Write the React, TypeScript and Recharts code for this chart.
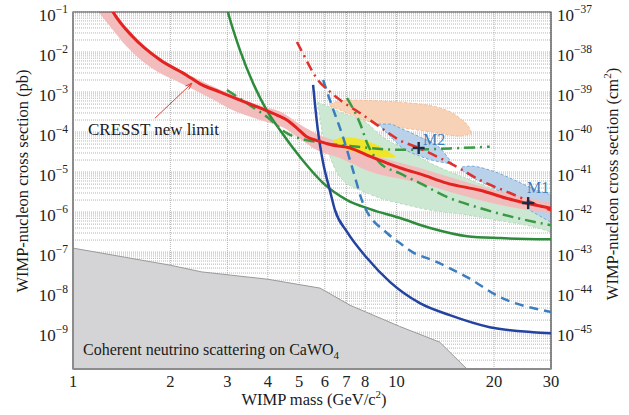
import {
  Area,
  CartesianGrid,
  ComposedChart,
  Line,
  ReferenceArea,
  ReferenceLine,
  Scatter,
  XAxis,
  YAxis,
} from 'recharts';

type Pt = [number, number];
type Band = [number, number, number];

const SERIF = '"Liberation Serif", "Times New Roman", serif';
const Y_MIN = 1.2e-10;
const Y_MAX = 0.1;

// axis ticks
const massTicks = [1, 2, 3, 4, 5, 6, 7, 8, 9, 10, 20, 30];
const sigmaDecades = [1e-9, 1e-8, 1e-7, 1e-6, 1e-5, 1e-4, 1e-3, 1e-2, 1e-1];
const minorSteps = [1, 2, 3, 4, 5, 6, 7, 8, 9];
const cm2PerPb = -36; // 1 pb = 1e-36 cm^2

// mass (GeV/c^2), cross section (pb)
const cresstLimit: Pt[] = [
  [1.3, 0.14], [1.33, 0.1], [1.53, 0.024], [1.86, 6.3e-3], [2.25, 2.6e-3],
  [2.47, 1.6e-3], [2.85, 1e-3], [3.28, 6.3e-4], [3.78, 4e-4], [4.27, 2.66e-4],
  [4.58, 2e-4], [4.92, 1.26e-4], [5.29, 7.5e-5], [5.68, 6.1e-5], [6.36, 4.7e-5],
  [7.18, 4e-5], [8.1, 2.66e-5], [9.34, 1.68e-5], [10.77, 1.12e-5], [11.8, 9e-6],
  [14.3, 5.3e-6], [18.1, 3.5e-6], [22.9, 2e-6], [30, 1.25e-6],
];

// mass, lower, upper
const cresstBand: Band[] = [
  [1.2, 0.1, 0.3], [1.33, 0.035, 0.11], [1.47, 0.0133, 0.04], [1.73, 4.2e-3, 0.011],
  [2.14, 1.7e-3, 3.6e-3], [2.65, 7.1e-4, 1.5e-3], [3.12, 3.5e-4, 8.4e-4],
  [3.78, 2e-4, 4.6e-4], [4.46, 1.3e-4, 3e-4], [5.0, 7e-5, 1.6e-4], [5.68, 3.5e-5, 9e-5],
  [6.7, 2.2e-5, 5.6e-5], [8.1, 1.1e-5, 3e-5], [11.8, 5.3e-6, 1.26e-5],
  [16, 2.6e-6, 6e-6], [22.9, 1.3e-6, 2.7e-6], [30, 9.4e-7, 1.7e-6],
];

const greenSolid: Pt[] = [
  [2.97, 0.15], [3.01, 0.1], [3.28, 0.0112], [3.6, 1.68e-3], [3.97, 3.5e-4],
  [4.36, 1.12e-4], [5.03, 2.37e-5], [5.93, 5.3e-6], [7.03, 2e-6], [8.28, 1.19e-6],
  [10.24, 7.1e-7], [12.7, 4e-7], [16.5, 2.5e-7], [20.9, 2.24e-7], [30, 2.1e-7],
];

const greenDashFlat: Pt[] = [
  [2.99, 1.12e-3], [3.52, 4.7e-4], [3.98, 2.37e-4], [4.58, 9.4e-5], [5.68, 5.6e-5],
  [7.18, 4.5e-5], [10.24, 3.6e-5], [14.6, 3.9e-5], [19.4, 4.3e-5],
];

const greenDashSteep: Pt[] = [
  [7.03, 7.1e-4], [7.7, 1.68e-4], [8.16, 4.7e-5], [8.89, 1.68e-5], [10.2, 9.4e-6],
  [11.8, 5.3e-6], [14.3, 2.4e-6], [18.1, 1.26e-6], [22.9, 7.5e-7], [30, 4.7e-7],
];

const redDashDot: Pt[] = [
  [4.92, 0.0178], [5.13, 9.4e-3], [5.4, 4.2e-3], [5.71, 2e-3], [6.14, 1.12e-3],
  [6.69, 6.3e-4], [7.7, 3e-4], [8.89, 1.33e-4], [10.2, 6.3e-5], [11.7, 4e-5],
  [15.4, 1.33e-5], [18.1, 6.3e-6], [22.4, 3e-6], [28.3, 1.33e-6], [30, 1.1e-6],
];

const blueSolid: Pt[] = [
  [5.52, 1.5e-3], [5.71, 1.12e-4], [5.93, 1.68e-5], [6.22, 3.5e-6], [6.45, 1.12e-6],
  [7.03, 3.2e-7], [8.1, 7.1e-8], [9.55, 1.78e-8], [11.8, 5.3e-9], [14.6, 2.66e-9],
  [19.4, 1.33e-9], [26.4, 1e-9], [30, 9.4e-10],
];

const blueDashed: Pt[] = [
  [5.93, 2e-3], [6.22, 6.3e-4], [6.83, 7.5e-5], [7.33, 1.12e-5], [7.87, 1.68e-6],
  [9.34, 3e-7], [10.24, 1.68e-7], [11.2, 1e-7], [12.9, 6.3e-8], [16.5, 2.37e-8],
  [20.9, 7.5e-9], [30, 3.2e-9],
];

const greenRegion: Band[] = [
  [5.71, 5.6e-4, 5.6e-4], [5.84, 1.5e-4, 5e-4], [6.09, 4.2e-5, 4.5e-4],
  [6.69, 7.5e-6, 3.16e-4], [8.1, 3e-6, 1.68e-4], [8.89, 2.24e-6, 8.4e-5],
  [10.77, 1.5e-6, 3.5e-5], [12.7, 1.12e-6, 1.68e-5], [16.0, 8.9e-7, 7.5e-6],
  [20.4, 6.3e-7, 3.5e-6], [25.8, 4.5e-7, 1.68e-6], [30, 3.2e-7, 1e-6],
];

const orangeRegion: Band[] = [
  [6.22, 4.5e-4, 5e-4], [7.03, 3e-4, 6.3e-4], [8.89, 1.5e-4, 6e-4], [11.0, 1.2e-4, 5.3e-4],
  [13.6, 9.4e-5, 4e-4], [15.7, 7.9e-5, 2.2e-4], [16.9, 8.9e-5, 1.12e-4], [17.1, 8.4e-5, 8.4e-5],
];

const m2Region: Band[] = [
  [8.76, 1.58e-4, 1.58e-4], [9.55, 7.9e-5, 1.58e-4], [10.24, 4.5e-5, 1.26e-4],
  [11.8, 2.5e-5, 7.5e-5], [13.6, 1.8e-5, 4e-5], [14.9, 1.6e-5, 1.6e-5],
];

const m1Region: Band[] = [
  [15.9, 1.12e-5, 1.33e-5], [16.9, 7.9e-6, 1.41e-5], [19.4, 4.5e-6, 1.12e-5],
  [22.4, 2.37e-6, 7.1e-6], [25.8, 1.12e-6, 4.2e-6], [30, 5.6e-7, 2.66e-6],
];

const yellowRegion: Band[] = [
  [6.4, 5.6e-5, 6.3e-5], [6.93, 3.8e-5, 7.5e-5], [7.7, 2.9e-5, 6.7e-5],
  [8.57, 2.5e-5, 5e-5], [9.3, 2.35e-5, 3.5e-5], [9.9, 2.3e-5, 2.5e-5],
];

const neutrinoFloor: Pt[] = [
  [1, 1.26e-7], [2, 4.7e-8], [2.5, 3.2e-8], [4, 2.1e-8], [5.8, 1.26e-8],
  [7.18, 4.7e-9], [10.2, 1.4e-9], [13.6, 5.6e-10], [16.5, 1.2e-10],
];

const bestFits: Pt[] = [
  [11.7, 4e-5],
  [25.5, 1.68e-6],
];

const arrowFrom: Pt = [1.79, 2.2e-4];
const arrowTo: Pt = [2.33, 1.66e-3];

const rows = (pts: Pt[]) => pts.map(([m, s]) => ({ m, s }));
const bands = (pts: Band[]) => pts.map(([m, lo, hi]) => ({ m, r: [lo, hi] }));

const sigmaTicks = [1e-10, ...sigmaDecades]
  .flatMap((d) => minorSteps.map((k) => k * d))
  .filter((v) => v >= Y_MIN && v <= Y_MAX * 1.0001);

const PowerTick = (props: any) => {
  const { x, y, payload, anchor, shift = 0 } = props;
  const e = Math.log10(payload.value);
  const n = Math.round(e);
  if (Math.abs(e - n) > 1e-6) return <g />;
  return (
    <text x={x} y={y + 9} textAnchor={anchor} style={{ fontFamily: SERIF }} fontSize={17} fill="#222">
      10
      <tspan dy={-8} fontSize={11.5}>{`\u2212${Math.abs(n + shift)}`}</tspan>
    </text>
  );
};

const MassTick = (props: any) => {
  const { x, y, payload } = props;
  return (
    <text x={x} y={y + 18} textAnchor="middle" style={{ fontFamily: SERIF }} fontSize={16.5} fill="#222">
      {payload.value}
    </text>
  );
};

const Cross = (props: any) => {
  const { cx, cy } = props;
  return (
    <g stroke="#1b2a44" strokeWidth={2.4}>
      <line x1={cx - 6} y1={cy} x2={cx + 6} y2={cy} />
      <line x1={cx} y1={cy - 6} x2={cx} y2={cy + 6} />
    </g>
  );
};

const Arrow = (props: any) => {
  const { x1, y1, x2, y2 } = props;
  const a = Math.atan2(y2 - y1, x2 - x1);
  const L = 7;
  const p1 = [x2 - L * Math.cos(a - 0.35), y2 - L * Math.sin(a - 0.35)];
  const p2 = [x2 - L * Math.cos(a + 0.35), y2 - L * Math.sin(a + 0.35)];
  return (
    <g stroke="#e0403a" strokeWidth={1} fill="none">
      <line x1={x1} y1={y1} x2={x2} y2={y2} />
      <polyline points={`${p1[0]},${p1[1]} ${x2},${y2} ${p2[0]},${p2[1]}`} />
    </g>
  );
};

const lineProps = { type: 'monotone' as const, dataKey: 's', dot: false, isAnimationActive: false };

export default function App() {
  return (
    <div style={{ position: 'absolute', left: 0, top: 0, width: 629, height: 415, background: '#fff' }}>
      <ComposedChart width={629} height={415} margin={{ top: 12, right: 0, left: 10, bottom: 0 }}>
        <CartesianGrid stroke="#b4b4b4" strokeDasharray="1 1" strokeWidth={1} />
        <XAxis
          type="number"
          dataKey="m"
          scale="log"
          domain={[1, 30]}
          ticks={massTicks}
          allowDataOverflow
          height={46}
          tickSize={0}
          tickMargin={0}
          axisLine={{ stroke: '#8c8c8c', strokeWidth: 2 }}
          tick={<MassTick />}
        />
        <YAxis
          type="number"
          scale="log"
          domain={[Y_MIN, Y_MAX]}
          ticks={sigmaTicks}
          allowDataOverflow
          width={63}
          tickSize={0}
          tickMargin={5}
          interval={0}
          axisLine={{ stroke: '#8c8c8c', strokeWidth: 2 }}
          tick={<PowerTick anchor="end" />}
        />
        <YAxis
          yAxisId="cm2"
          orientation="right"
          type="number"
          scale="log"
          domain={[Y_MIN, Y_MAX]}
          ticks={sigmaDecades}
          allowDataOverflow
          width={78}
          tickSize={0}
          tickMargin={6}
          interval={0}
          axisLine={false}
          tick={<PowerTick anchor="start" shift={cm2PerPb} />}
        />

        <Area data={rows(neutrinoFloor)} dataKey="s" type="linear" baseValue={Y_MIN}
          fill="#d4d4d6" fillOpacity={1} stroke="#9a9a9a" strokeWidth={1} isAnimationActive={false} />
        <Area data={bands(greenRegion)} dataKey="r" type="monotone"
          fill="#cde8d2" fillOpacity={1} stroke="#b5dcbc" strokeWidth={1} strokeDasharray="3 2" isAnimationActive={false} />
        <Area data={bands(orangeRegion)} dataKey="r" type="monotone"
          fill="#f8d2b6" fillOpacity={1} stroke="#f2bf9b" strokeWidth={1} strokeDasharray="3 2" isAnimationActive={false} />
        <Area data={bands(m2Region)} dataKey="r" type="monotone"
          fill="#b9d2ea" fillOpacity={1} stroke="#7aa8d6" strokeWidth={1} strokeDasharray="3 2" isAnimationActive={false} />
        <Area data={bands(m1Region)} dataKey="r" type="monotone"
          fill="#b9d2ea" fillOpacity={1} stroke="#7aa8d6" strokeWidth={1} strokeDasharray="3 2" isAnimationActive={false} />
        <Area data={bands(cresstBand)} dataKey="r" type="monotone"
          fill="#f2b9bb" fillOpacity={0.95} stroke="none" isAnimationActive={false} />
        <Area data={bands(yellowRegion)} dataKey="r" type="monotone"
          fill="#f1e52a" fillOpacity={1} stroke="none" isAnimationActive={false} />

        <Line {...lineProps} data={rows(greenSolid)} stroke="#2e8b3c" strokeWidth={2.5} />
        <Line {...lineProps} data={rows(greenDashFlat)} stroke="#3a9a44" strokeWidth={2.5} strokeDasharray="11 5 2 5" />
        <Line {...lineProps} data={rows(greenDashSteep)} stroke="#3a9a44" strokeWidth={2.5} strokeDasharray="11 5 2 5" />
        <Line {...lineProps} data={rows(blueDashed)} stroke="#3b7dbf" strokeWidth={2.5} strokeDasharray="9 6" />
        <Line {...lineProps} data={rows(blueSolid)} stroke="#2443a0" strokeWidth={2.5} />
        <Line {...lineProps} data={rows(redDashDot)} stroke="#e0302c" strokeWidth={2.5} strokeDasharray="10 5 2 5" />
        <Line {...lineProps} data={rows(cresstLimit)} stroke="#e3231f" strokeWidth={3} />

        <Scatter data={rows(bestFits)} dataKey="s" shape={<Cross />} isAnimationActive={false} />
        <ReferenceLine
          segment={[{ x: arrowFrom[0], y: arrowFrom[1] }, { x: arrowTo[0], y: arrowTo[1] }]}
          shape={<Arrow />}
        />
        <ReferenceArea x1={1} x2={30} y1={Y_MIN} y2={Y_MAX} fill="none" stroke="#444" strokeWidth={1.2} />
      </ComposedChart>

      <svg width={629} height={415} style={{ position: 'absolute', left: 0, top: 0, pointerEvents: 'none', fontFamily: SERIF }}
        fill="#1a1a1a">
        <text transform="translate(28,181) rotate(-90)" textAnchor="middle" fontSize={16.5}>
          WIMP-nucleon cross section (pb)
        </text>
        <text transform="translate(618,184) rotate(-90)" textAnchor="middle" fontSize={16.5}>
          WIMP-nucleon cross section (cm<tspan dy={-7} fontSize={11}>2</tspan><tspan dy={7}>)</tspan>
        </text>
        <text x={314} y={405} textAnchor="middle" fontSize={16.5}>
          WIMP mass (GeV/c<tspan dy={-7} fontSize={11}>2</tspan><tspan dy={7}>)</tspan>
        </text>
        <text x={88} y={135} fontSize={17}>CRESST new limit</text>
        <text x={83} y={355} fontSize={16}>
          Coherent neutrino scattering on CaWO<tspan dy={4} fontSize={11}>4</tspan>
        </text>
        <text x={423} y={145} fontSize={16} fill="#3d7ab8">M2</text>
        <text x={527} y={193} fontSize={16} fill="#3d7ab8">M1</text>
      </svg>
    </div>
  );
}
